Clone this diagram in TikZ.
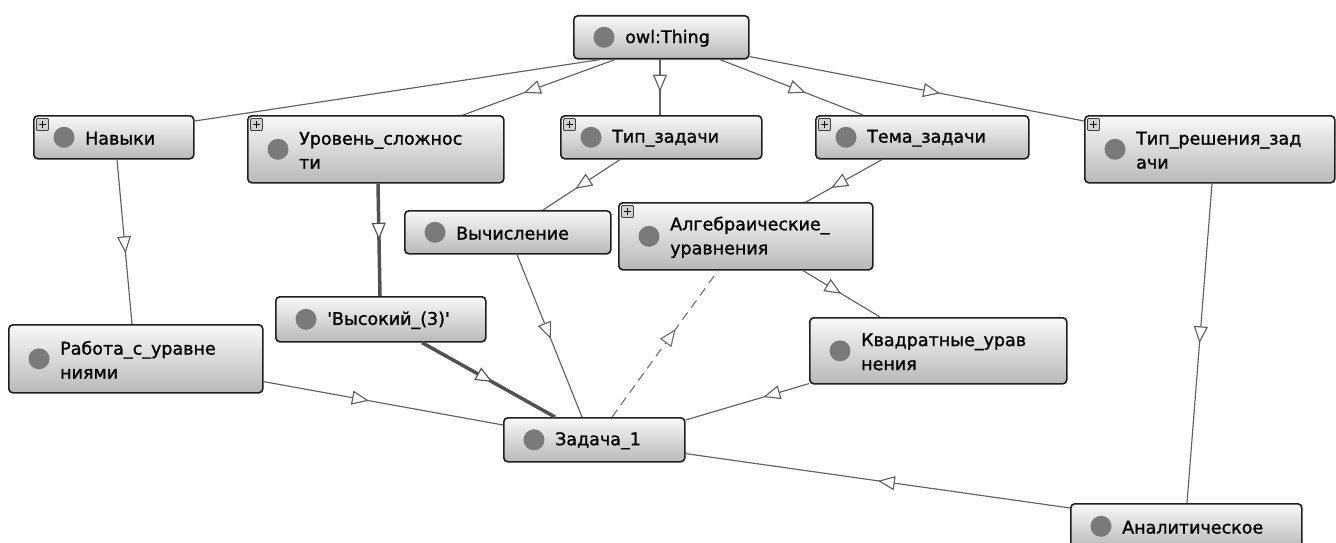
\documentclass[tikz,border=0pt]{standalone}
\usepackage{fontspec}
\setmainfont{DejaVu Sans}[Ligatures=TeXOff,FakeBold=1.3]
\usetikzlibrary{arrows.meta,decorations.markings}

\tikzset{
  cls/.style={draw=black!88, line width=1.6pt, rounded corners=4pt, top color=gray!5, bottom color=gray!55, inner sep=0pt},
  dotn/.style={circle, fill=black!52, minimum size=21pt, inner sep=0pt},
  lbl/.style={font=\fontsize{17.5}{24}\selectfont, align=left, inner sep=0pt, anchor=west, text=black},
  plusbox/.style={draw=black!75, fill=gray!35, line width=0.9pt, minimum size=12pt, inner sep=0pt, rounded corners=1pt},
  rel/.style={draw=black!62, line width=1.15pt},
  heavyrel/.style={draw=black!68, line width=3.5pt},
  dashrel/.style={draw=black!55, line width=1.15pt, dash pattern=on 9pt off 6pt},
  subarr/.style={postaction={decorate}, decoration={markings, mark=at position #1 with {\arrow{Triangle[length=17pt,width=14pt,fill=white,line width=1.15pt]}}}},
}

\newcommand\ocls[7]{%
  \node[cls, anchor=north west, minimum width={(#4-#2)*1pt}, minimum height={(#5-#3)*1pt}] (#1) at (#2,#3) {};
  \node[dotn] (#1-d) at ([xshift=31pt]#1.west) {};
  \node[lbl] (#1-t) at ([xshift=52pt,yshift=-1pt]#1.west) {#6};
  \ifnum#7=1
    \node[plusbox] (#1-p) at ([xshift=9.5pt,yshift=-9.5pt]#1.north west) {};
    \draw[line width=1.8pt] ([xshift=-3.6pt]#1-p.center) -- ([xshift=3.6pt]#1-p.center)
      ([yshift=-3.6pt]#1-p.center) -- ([yshift=3.6pt]#1-p.center);
  \fi}

\begin{document}
\begin{tikzpicture}[x=1pt,y=-1pt]
\clip (0,0) rectangle (1336,543);
\fill[white] (0,0) rectangle (1336,543);

\ocls{thing}{573}{15}{748}{58}{owl:Thing}{0}
\ocls{navyki}{33}{115}{193}{158}{Навыки}{1}
\ocls{uroven}{247}{115}{503}{182}{Уровень\_сложнос\\ти}{1}
\ocls{tipz}{560}{115}{761}{158}{Тип\_задачи}{1}
\ocls{tema}{815}{115}{1028}{158}{Тема\_задачи}{1}
\ocls{tipr}{1084}{115}{1334}{182}{Тип\_решения\_зад\\ачи}{1}
\ocls{vych}{404}{210}{610}{253}{Вычисление}{0}
\ocls{alg}{618}{202}{872}{269}{Алгебраические\_\\уравнения}{1}
\ocls{vys}{275}{296}{485}{341}{'Высокий\_(3)'}{0}
\ocls{rab}{8}{324}{262}{392}{Работа\_с\_уравне\\ниями}{0}
\ocls{kv}{809}{317}{1066}{383}{Квадратные\_урав\\нения}{0}
\ocls{zad}{503}{417}{684}{461}{Задача\_1}{0}
\ocls{anal}{1070}{503}{1301}{548}{Аналитическое}{0}

% connectors
\draw[rel] ([xshift=27pt]thing.south west) -- ([yshift=-6pt]navyki.north east);
\draw[rel, subarr=0.6] ([xshift=42pt]thing.south west) -- ([xshift=216pt]uroven.north west);
\draw[rel, subarr=0.58] ([xshift=87pt]thing.south west) -- ([xshift=100pt]tipz.north west);
\draw[rel, subarr=0.6] ([xshift=147pt]thing.south west) -- ([xshift=48pt]tema.north west);
\draw[rel, subarr=0.57] ([yshift=3pt]thing.south east) -- ([yshift=-6pt]tipr.north west);
\draw[rel, subarr=0.57] ([xshift=84pt]navyki.south west) -- ([xshift=124pt]rab.north west);
\draw[heavyrel, subarr=0.5] ([xshift=131pt]uroven.south west) -- ([xshift=105pt]vys.north west);
\draw[heavyrel, subarr=0.53] ([xshift=147pt]vys.south west) -- ([xshift=52pt]zad.north west);
\draw[rel, subarr=0.58] ([xshift=60pt]tipz.south west) -- ([xshift=139pt]vych.north west);
\draw[rel, subarr=0.67] ([xshift=67pt]tema.south west) -- ([xshift=188pt]alg.north west);
\draw[rel, subarr=0.52] ([xshift=113pt]vych.south west) -- ([xshift=79pt]zad.north west);
\draw[dashrel, subarr=0.6] ([xshift=109pt]zad.north west) -- ([xshift=100pt]alg.south west);
\draw[rel, subarr=0.5] ([xshift=185pt]alg.south west) -- ([xshift=71pt]kv.north west);
\draw[rel, subarr=0.37] ([yshift=1pt]kv.south west) -- ([yshift=-3pt]zad.north east);
\draw[rel, subarr=0.44] ([yshift=12pt]rab.south east) -- ([yshift=-8pt]zad.north west);
\draw[rel, subarr=0.5] ([xshift=128pt]tipr.south west) -- ([xshift=117pt]anal.north west);
\draw[rel, subarr=0.5] ([yshift=-5pt]anal.north west) -- ([yshift=9pt]zad.south east);
\end{tikzpicture}
\end{document}
